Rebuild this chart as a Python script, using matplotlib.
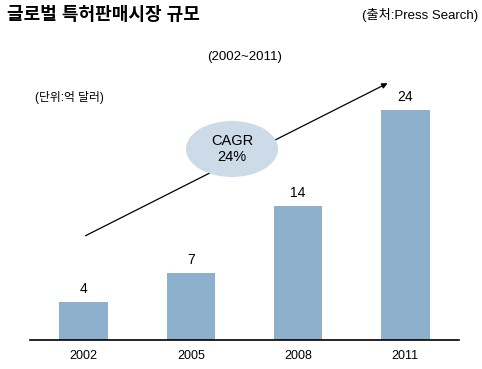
import matplotlib.pyplot as plt
from matplotlib.patches import Ellipse

plt.rcParams['font.family'] = ['Liberation Sans', 'Noto Sans CJK KR', 'DejaVu Sans']

years = ["2002", "2005", "2008", "2011"]
values = [4, 7, 14, 24]
bar_color = "#8db0cd"

fig = plt.figure(figsize=(4.82, 3.69), dpi=100)
W, H = 482, 369
ax = fig.add_axes([30 / W, 1 - 340 / H, 429 / W, 240 / H])

x = range(len(years))
ax.bar(x, values, width=0.45, color=bar_color)
for xi, v in zip(x, values):
    ax.text(xi, v + 0.6, str(v), ha="center", va="bottom", fontsize=10, clip_on=False)

ax.set_xlim(-0.5, 3.5)
ax.set_ylim(0, 25)
ax.set_xticks(list(x))
ax.set_xticklabels(years, fontsize=9)
ax.tick_params(axis="x", length=0, pad=7)
ax.set_yticks([])
for s in ["top", "right", "left"]:
    ax.spines[s].set_visible(False)
ax.spines["bottom"].set_linewidth(1.2)

def fx(px):
    return px / W

def fy(py):
    return 1 - py / H

# titles
fig.text(fx(7), fy(15), "글로벌 특허판매시장 규모", fontsize=13, fontweight="bold", va="center", ha="left")
fig.text(fx(478), fy(15), "(출처:Press Search)", fontsize=9.5, va="center", ha="right")
fig.text(fx(245), fy(57), "(2002~2011)", fontsize=9.5, va="center", ha="center")
fig.text(fx(35), fy(98), "(단위:억 달러)", fontsize=8.5, va="center", ha="left")

# growth arrow and CAGR ellipse
fig.add_artist(plt.Annotation("", xy=(fx(390), fy(82)), xytext=(fx(83), fy(237)),
                              xycoords="figure fraction", textcoords="figure fraction",
                              arrowprops=dict(arrowstyle="-|>", color="black", lw=0.9,
                                              mutation_scale=8)))
fig.add_artist(Ellipse((fx(232), fy(149)), fx(92), 56 / H, transform=fig.transFigure,
                       facecolor="#cddae7", edgecolor="none", zorder=3))
fig.text(fx(232), fy(149), "CAGR\n24%", fontsize=10.5, ha="center", va="center",
         linespacing=1.2, zorder=4)

fig.savefig("out.png", dpi=100)
